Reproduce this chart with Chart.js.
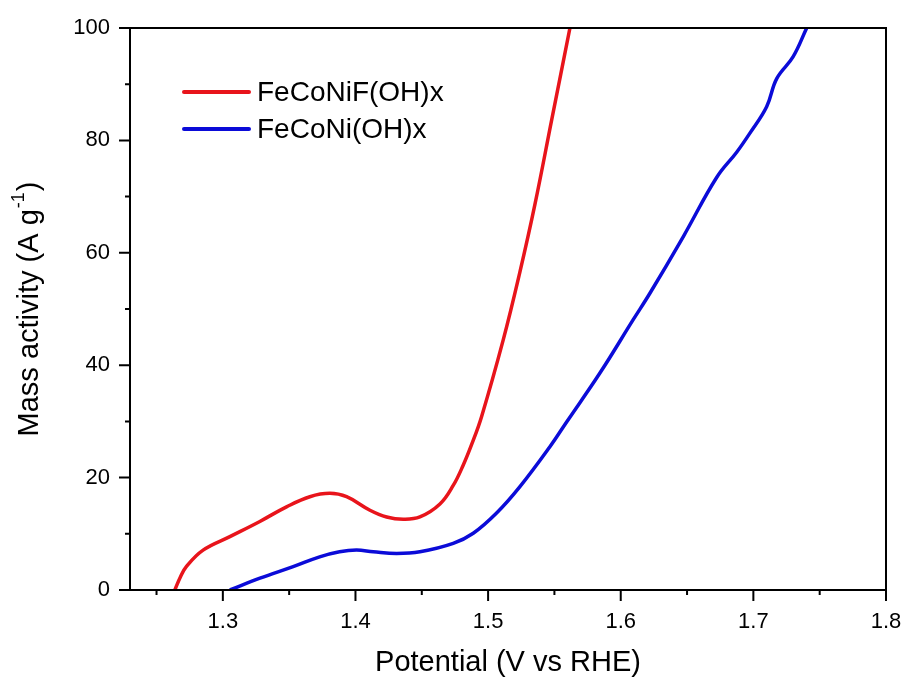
<!DOCTYPE html>
<html>
<head>
<meta charset="utf-8">
<script src="https://cdn.jsdelivr.net/npm/chart.js@4"></script>
<style>
  html, body { margin: 0; padding: 0; background: #fff; }
  #wrap { width: 905px; height: 682px; }
</style>
</head>
<body>
<div id="wrap"><canvas id="lsvChart"></canvas></div>
<script>
// LSV curves, mass activity vs potential
const seriesNames = ['FeCoNiF(OH)x', 'FeCoNi(OH)x'];
const seriesColors = ['#e8141b', '#0b0bd8'];

const potentialF = [1.2638, 1.268, 1.2726, 1.2851, 1.3053, 1.3279, 1.348, 1.3656, 1.3807, 1.3933, 1.4109,
  1.4235, 1.436, 1.4486, 1.4637, 1.4737, 1.4812, 1.4876, 1.495, 1.5114, 1.524, 1.5353, 1.5479, 1.5617];
const activityF = [0, 2.3, 4.2, 7.1, 9.5, 12.2, 14.8, 16.6, 17.2, 16.6, 14.2,
  13.0, 12.6, 13.0, 15.3, 18.6, 22.2, 25.9, 30.8, 44.5, 56.6, 68.6, 83.6, 100];

const potential = [1.3053, 1.328, 1.353, 1.373, 1.388, 1.4008, 1.4134, 1.431, 1.4486, 1.4737,
  1.4888, 1.5064, 1.524, 1.5466, 1.5592, 1.5843, 1.6094, 1.622, 1.6472, 1.6723,
  1.6874, 1.6974, 1.71, 1.7176, 1.73, 1.7402];
const activity = [0, 2.1, 4.15, 5.9, 6.8, 7.1, 6.8, 6.5, 6.8, 8.3,
  10.1, 13.7, 18.4, 25.5, 29.9, 38.6, 48.1, 52.8, 62.9, 73.4,
  77.9, 81.3, 86.0, 91.0, 94.9, 100];

const xTicks = [1.25, 1.3, 1.35, 1.4, 1.45, 1.5, 1.55, 1.6, 1.65, 1.7, 1.75, 1.8];
const xTickLabels = ['1.3', '1.4', '1.5', '1.6', '1.7', '1.8'];
const yTicks = [0, 10, 20, 30, 40, 50, 60, 70, 80, 90, 100];
const yTickLabels = ['0', '20', '40', '60', '80', '100'];

const FONT = "'Liberation Sans', Arial, sans-serif";

function toPoints(xs, ys) {
  return xs.map((x, i) => ({ x: x, y: ys[i] }));
}

function isMajor(labels, v) {
  return labels.some(l => Math.abs(parseFloat(l) - v) < 1e-6);
}

// frame, outward ticks, inset legend and the y title with superscript
const decorations = {
  id: 'decorations',
  afterDraw(chart) {
    const { ctx, chartArea: a, scales } = chart;
    ctx.save();
    ctx.strokeStyle = '#000';
    ctx.lineWidth = 2;
    ctx.strokeRect(a.left, a.top, a.right - a.left, a.bottom - a.top);

    ctx.beginPath();
    scales.x.ticks.forEach(t => {
      const px = scales.x.getPixelForValue(t.value);
      const len = isMajor(xTickLabels, t.value) ? 11 : 5;
      ctx.moveTo(px, a.bottom);
      ctx.lineTo(px, a.bottom + len);
    });
    scales.y.ticks.forEach(t => {
      const py = scales.y.getPixelForValue(t.value);
      const len = isMajor(yTickLabels, t.value) ? 11 : 5;
      ctx.moveTo(a.left, py);
      ctx.lineTo(a.left - len, py);
    });
    ctx.stroke();

    // legend
    chart.data.datasets.forEach((ds, i) => {
      const y = 92 + i * 37;
      ctx.strokeStyle = ds.borderColor;
      ctx.lineWidth = 4;
      ctx.lineCap = 'round';
      ctx.beginPath();
      ctx.moveTo(184, y);
      ctx.lineTo(249, y);
      ctx.stroke();
      ctx.fillStyle = '#000';
      ctx.font = '28px ' + FONT;
      ctx.textBaseline = 'middle';
      ctx.textAlign = 'left';
      ctx.fillText(ds.label, 257, y + 1);
    });

    // y axis title
    const main = 'Mass activity (A g';
    const sup = '-1';
    const tail = ')';
    ctx.translate(30, (a.top + a.bottom) / 2);
    ctx.rotate(-Math.PI / 2);
    ctx.fillStyle = '#000';
    ctx.textBaseline = 'middle';
    ctx.textAlign = 'left';
    ctx.font = '29px ' + FONT;
    const w1 = ctx.measureText(main).width;
    const w3 = ctx.measureText(tail).width;
    ctx.font = '18px ' + FONT;
    const w2 = ctx.measureText(sup).width;
    const x0 = -(w1 + w2 + w3 + 2) / 2;
    ctx.font = '29px ' + FONT;
    ctx.fillText(main, x0, 0);
    ctx.font = '18px ' + FONT;
    ctx.fillText(sup, x0 + w1 + 1, -11);
    ctx.font = '29px ' + FONT;
    ctx.fillText(tail, x0 + w1 + w2 + 2, 0);
    ctx.restore();
  }
};

const lineStyle = {
  borderWidth: 3.5,
  pointRadius: 0,
  tension: 0.4,
  fill: false
};

const data = {
  datasets: [
    Object.assign({
      label: seriesNames[0],
      data: toPoints(potentialF, activityF),
      borderColor: seriesColors[0]
    }, lineStyle),
    Object.assign({
      label: seriesNames[1],
      data: toPoints(potential, activity),
      borderColor: seriesColors[1]
    }, lineStyle)
  ]
};

const config = {
  type: 'line',
  data: data,
  options: {
    responsive: false,
    animation: false,
    layout: { padding: { top: 28, right: 19, left: 0, bottom: 0 } },
    plugins: {
      legend: { display: false },
      tooltip: { enabled: false }
    },
    scales: {
      x: {
        type: 'linear',
        min: 1.23,
        max: 1.8,
        afterBuildTicks: s => { s.ticks = xTicks.map(v => ({ value: v })); },
        afterFit: s => {
          s.height = 92;
          s.paddingLeft = 0;
          s.paddingRight = 0;
        },
        grid: { display: false },
        border: { display: false },
        ticks: {
          autoSkip: false,
          maxRotation: 0,
          padding: 11,
          color: '#000',
          font: { family: FONT, size: 22 },
          callback: v => xTickLabels.find(l => Math.abs(parseFloat(l) - v) < 1e-6) || ''
        },
        title: {
          display: true,
          text: 'Potential (V vs RHE)',
          color: '#000',
          font: { family: FONT, size: 29 },
          padding: { top: 0, bottom: 2 }
        }
      },
      y: {
        min: 0,
        max: 100,
        afterBuildTicks: s => { s.ticks = yTicks.map(v => ({ value: v })); },
        afterFit: s => {
          s.width = 130;
          s.paddingTop = 0;
          s.paddingBottom = 0;
        },
        grid: { display: false },
        border: { display: false },
        ticks: {
          autoSkip: false,
          padding: 12,
          color: '#000',
          font: { family: FONT, size: 22 },
          callback: v => yTickLabels.find(l => parseFloat(l) === v) || ''
        }
      }
    }
  },
  plugins: [decorations]
};

const canvas = document.getElementById('lsvChart');
canvas.width = 905;
canvas.height = 682;
const lsvChart = new Chart(canvas.getContext('2d'), config);
</script>
</body>
</html>
